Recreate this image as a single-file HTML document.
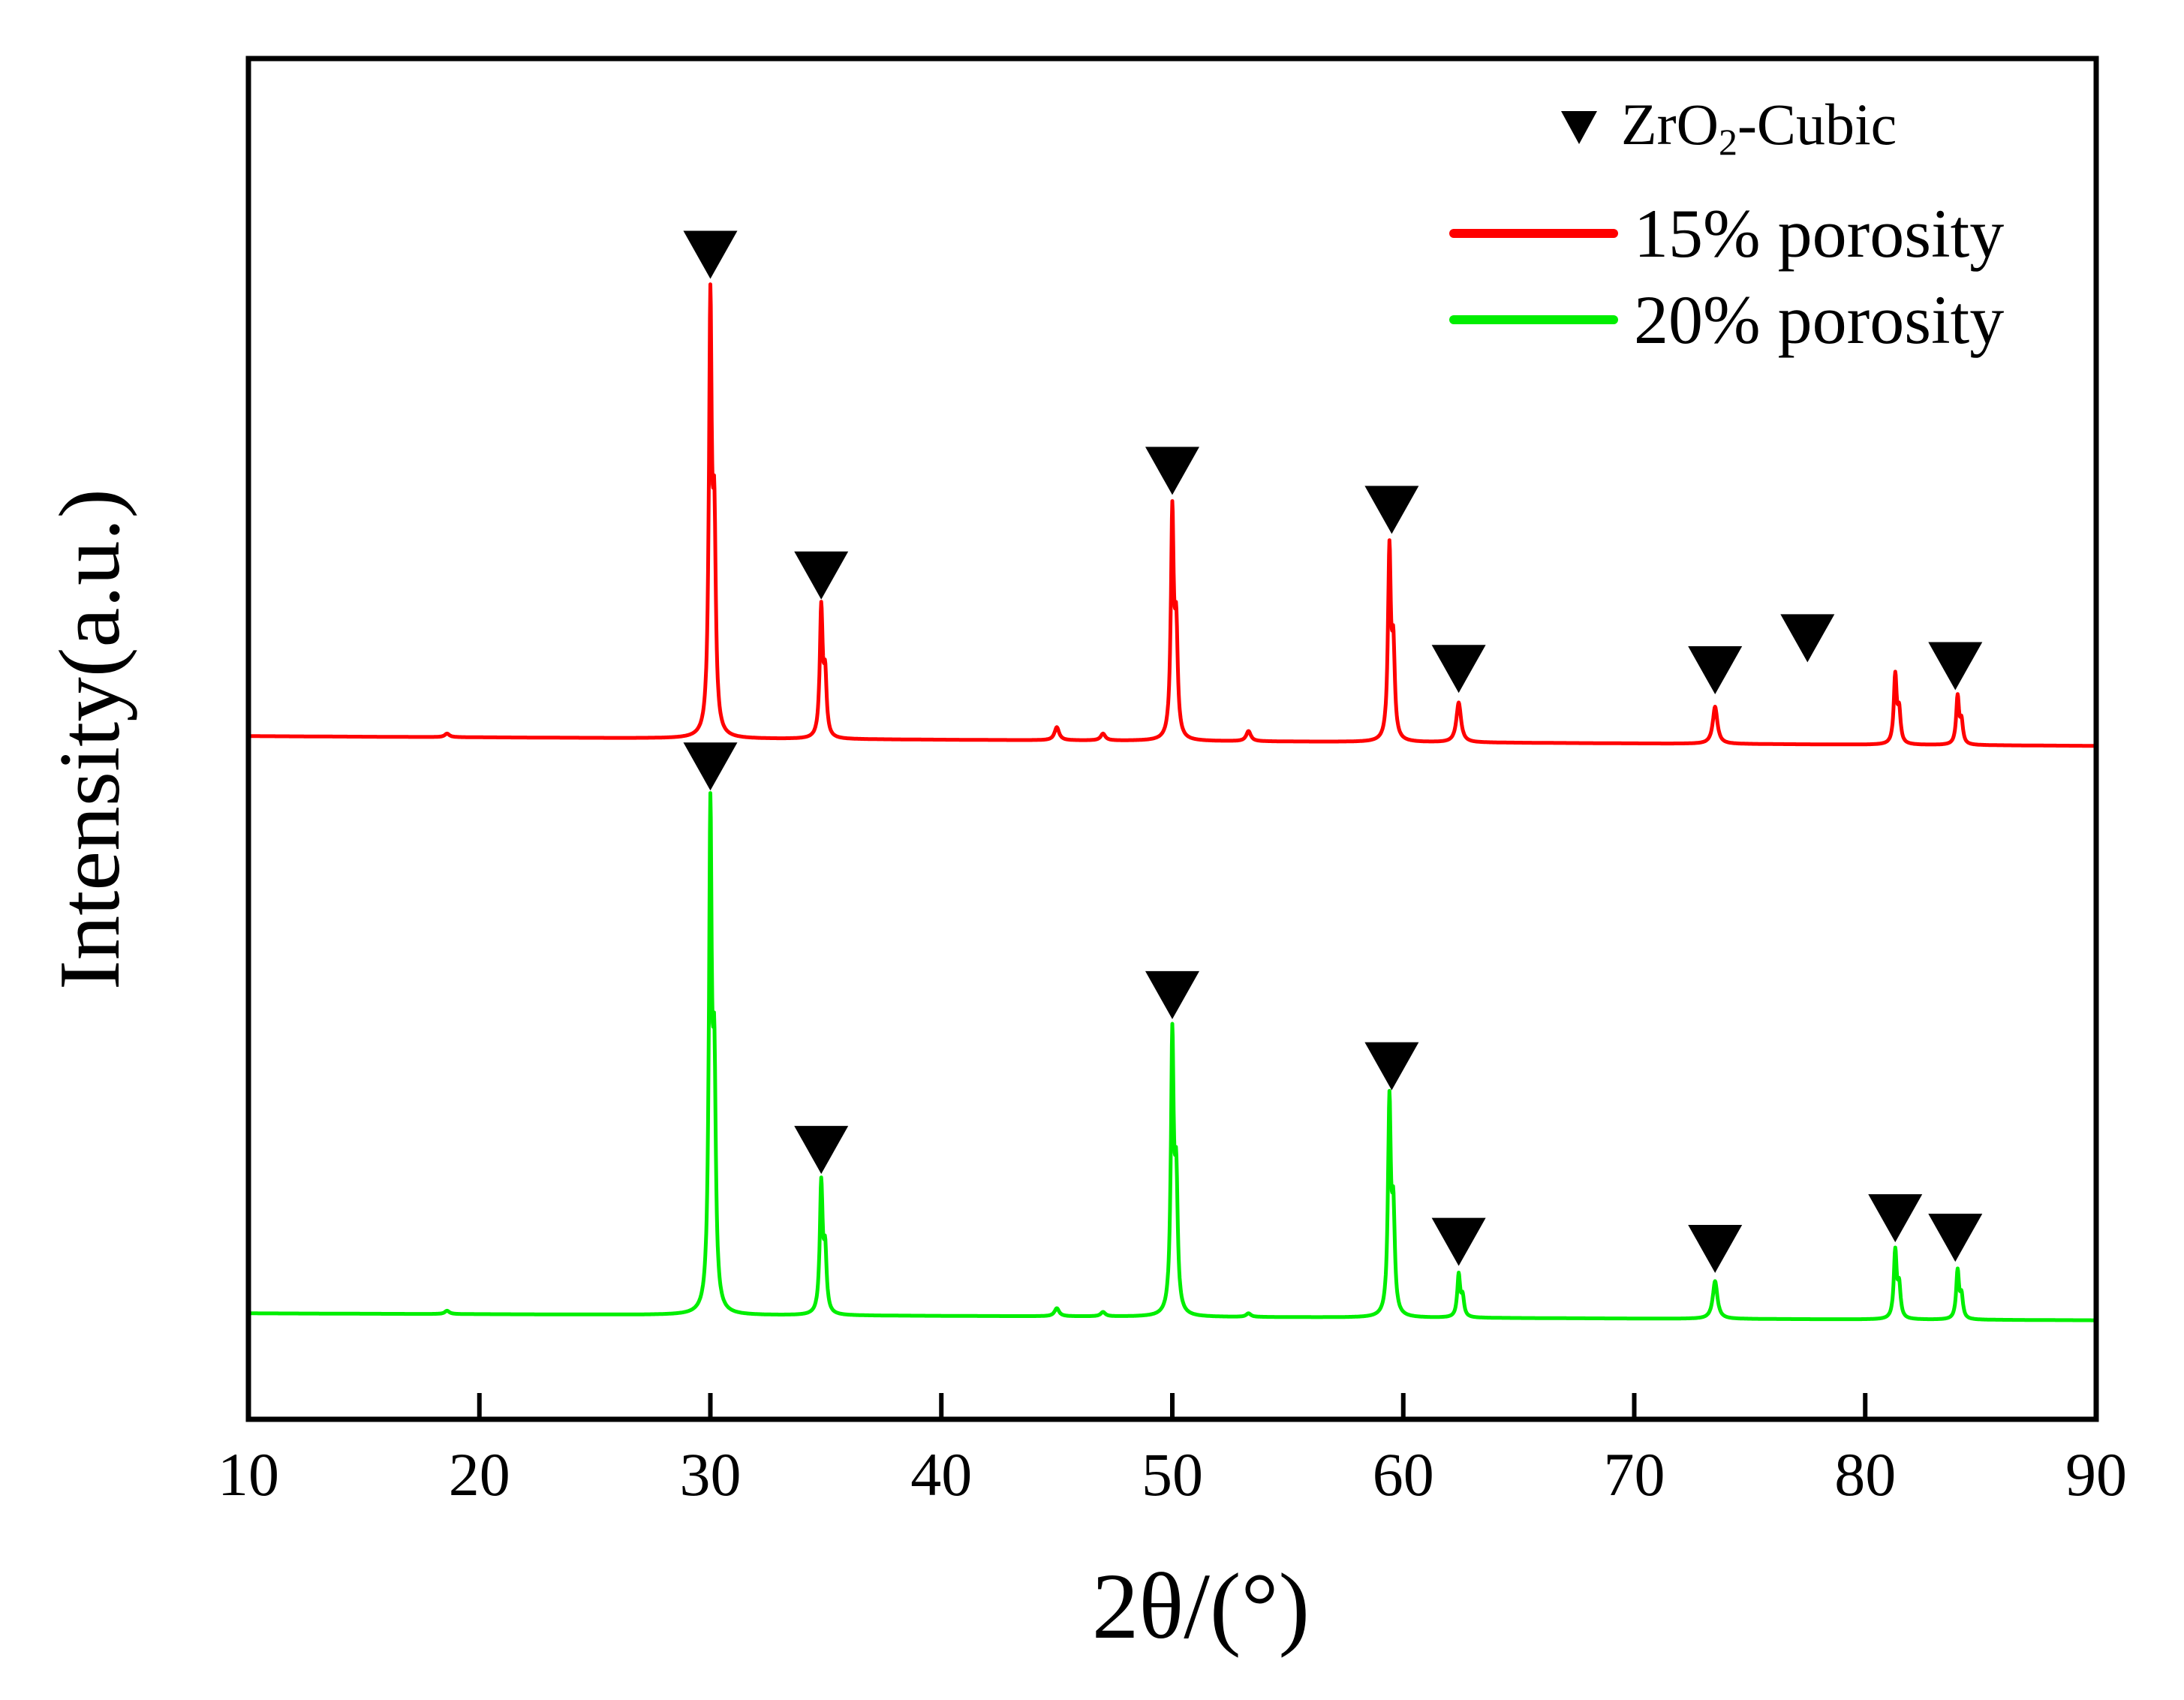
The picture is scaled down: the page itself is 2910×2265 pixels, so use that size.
<!DOCTYPE html>
<html><head><meta charset="utf-8"><style>
html,body{margin:0;padding:0;background:#fff;}
svg{display:block;font-family:"Liberation Serif",serif;}
</style></head><body>
<svg id="chart" width="2910" height="2265" viewBox="0 0 2910 2265" xmlns="http://www.w3.org/2000/svg">
<rect width="2910" height="2265" fill="#fff"/>
<g id="series"></g>
<g id="markers"></g>
<rect x="331" y="78" width="2462" height="1813" fill="none" stroke="#000" stroke-width="7"/>
<g id="xaxis"></g>
<text x="1600" y="2182" font-size="125" text-anchor="middle">2θ/(°)</text>
<text transform="translate(158,985) rotate(-90)" font-size="115" text-anchor="middle" textLength="668" lengthAdjust="spacingAndGlyphs">Intensity(a.u.)</text>
<g>
<polygon points="2080,148 2128,148 2104,192" fill="#000"/>
<text x="2160" y="192" font-size="78">ZrO<tspan font-size="50" dy="14">2</tspan><tspan dy="-14">-Cubic</tspan></text>
<line x1="1937" y1="311" x2="2150" y2="311" stroke="#ff0000" stroke-width="12" stroke-linecap="round"/>
<text x="2177" y="342" font-size="92">15% porosity</text>
<line x1="1937" y1="426" x2="2150" y2="426" stroke="#00ee00" stroke-width="12" stroke-linecap="round"/>
<text x="2177" y="457" font-size="92">20% porosity</text>
</g>
</svg>
<script>
const xTicks = [10,20,30,40,50,60,70,80,90];
const peakPos = [18.6, 30.0, 34.8, 45.0, 47.0, 50.0, 53.3, 59.4, 62.4, 73.5, 81.3, 84.0];
const redApex = [492, 813, 586, 497, 492, 658, 494, 630, 516, 513, 536, 520];
const greenApex = [78, 448, 173, 80, 77, 283, 76, 235, 105, 101, 123, 108];
const redBase = [490, 483];
const greenBase = [76, 71];
const redMarkX = [30.0, 34.8, 50.0, 59.5, 62.4, 73.5, 77.5, 83.9];
const redMarkY = [818, 588, 663, 635, 521, 520, 543, 523];
const greenMarkX = [30.0, 34.8, 50.0, 59.5, 62.4, 73.5, 81.3, 83.9];
const greenMarkY = [451, 176, 287, 236, 110, 105, 127, 113];

const NS = "http://www.w3.org/2000/svg";
const X = v => 331 + (v - 10) * (2462 / 80);
const Y = i => 1891 - i * (1813 / 976);

function spectrum(apex, base){
  const pts = [];
  const bAt = x => base[0] + (base[1]-base[0])*(x-10)/80;
  for (let x = 10; x <= 90.0001; x += 0.02){
    let y = bAt(x);
    for (let k = 0; k < peakPos.length; k++){
      const h = (apex[k] - bAt(peakPos[k])) / 1.07;
      const small = h < 30;
      const w = small ? 0.12 : 0.075;
      const d = x - peakPos[k];
      const d2 = x - peakPos[k] - 0.17;
      y += h / (1 + (d/w)*(d/w)) + (small ? 0 : 0.45*h / (1 + (d2/w)*(d2/w)));
    }
    pts.push(X(x).toFixed(1) + "," + Y(y).toFixed(1));
  }
  return pts.join(" ");
}
const sg = document.getElementById("series");
[[redApex, redBase, "#ff0000", "series-15-porosity"], [greenApex, greenBase, "#00ee00", "series-20-porosity"]].forEach(s => {
  const p = document.createElementNS(NS, "polyline");
  p.setAttribute("points", spectrum(s[0], s[1]));
  p.setAttribute("fill", "none");
  p.setAttribute("stroke", s[2]);
  p.setAttribute("stroke-width", "5");
  p.setAttribute("stroke-linejoin", "round");
  
  
  sg.appendChild(p);
});
const mg = document.getElementById("markers");
function tri(x, y, name){
  const cx = X(x), ty = Y(y);
  const t = document.createElementNS(NS, "polygon");
  t.setAttribute("points", (cx-36)+","+(ty-64)+" "+(cx+36)+","+(ty-64)+" "+cx+","+ty);
  t.setAttribute("fill", "#000");
  
  
  mg.appendChild(t);
}
redMarkX.forEach((x,i) => tri(x, redMarkY[i], "marker-15-porosity"));
greenMarkX.forEach((x,i) => tri(x, greenMarkY[i], "marker-20-porosity"));
const xg = document.getElementById("xaxis");
xTicks.forEach(v => {
  if (v > 10 && v < 90){
    const l = document.createElementNS(NS, "line");
    l.setAttribute("x1", X(v)); l.setAttribute("x2", X(v));
    l.setAttribute("y1", 1891); l.setAttribute("y2", 1856);
    l.setAttribute("stroke", "#000"); l.setAttribute("stroke-width", "6");
    
    
    xg.appendChild(l);
  }
  const t = document.createElementNS(NS, "text");
  t.setAttribute("x", X(v)); t.setAttribute("y", 1992);
  t.setAttribute("font-size", "82"); t.setAttribute("text-anchor", "middle");
  t.textContent = v;
  
  
  xg.appendChild(t);
});
</script>
</body></html>
